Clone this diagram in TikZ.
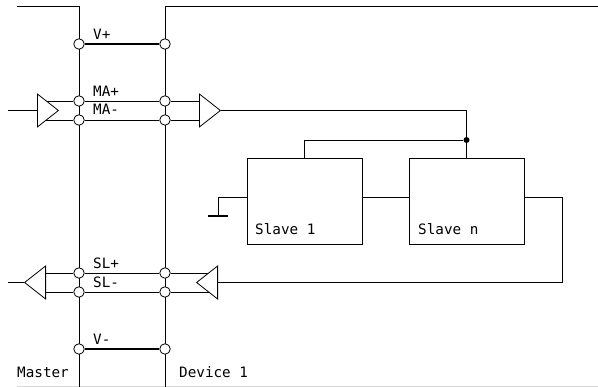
\documentclass[tikz,border=0pt]{standalone}
\usepackage{fontspec}
\setmonofont{DejaVu Sans Mono}
\usetikzlibrary{shapes.geometric}
\tikzset{
    wire/.style={line width=0.8pt},
    supply/.style={line width=1.6pt},
    edge line/.style={line width=0.8pt, black!15},
    port/.style={circle, draw, line width=0.8pt, fill=white, minimum size=10.5pt, inner sep=0pt},
    joint/.style={circle, fill=black, minimum size=6pt, inner sep=0pt},
    unit/.style={rectangle, draw, line width=0.8pt, minimum width=115pt, minimum height=86pt},
    buffer/.style={isosceles triangle, isosceles triangle stretches, draw, line width=0.8pt, fill=white,
        minimum width=33pt, minimum height=21pt, inner sep=0pt, anchor=lower side},
    tag/.style={anchor=base west, inner sep=0pt, font=\ttfamily\fontsize{14.3}{15}\selectfont}
}
\begin{document}
\begin{tikzpicture}[x=1pt, y=-1pt]
        \useasboundingbox (0,0) rectangle (598,387);

        % Faint line along the bottom edge
        \coordinate (edgea) at (17,386);
        \coordinate (edgeb) at (598,386);
        \draw[edge line] (edgea) -- (edgeb);

        % Rails
        \coordinate (mastertop) at (17,6);
        \coordinate (masterbend) at (79,6);
        \coordinate (masterend) at (79,387);
        \coordinate (devicebend) at (165,6);
        \coordinate (devicetop) at (598,6);
        \coordinate (deviceend) at (165,387);
        \draw[wire] (mastertop) -- (masterbend) -- (masterend);
        \draw[wire] (devicetop) -- (devicebend) -- (deviceend);

        % Ports on the master rail
        \node[port] (vpa) at (79,44) {};
        \node[port] (map) at (79,101) {};
        \node[port] (mam) at (79,120) {};
        \node[port] (slp) at (79,273) {};
        \node[port] (slm) at (79,292) {};
        \node[port] (vma) at (79,349) {};

        % Ports on the device rail
        \node[port] (vpb) at (165,44) {};
        \node[port] (mapb) at (165,101) {};
        \node[port] (mamb) at (165,120) {};
        \node[port] (slpb) at (165,273) {};
        \node[port] (slmb) at (165,292) {};
        \node[port] (vmb) at (165,349) {};

        % Pairs between the rails
        \draw[supply] (vpa) -- (vpb);
        \draw[supply] (vma) -- (vmb);
        \draw[wire] (45,101) -- (map) -- (mapb) -- (199,101);
        \draw[wire] (45,120) -- (mam) -- (mamb) -- (199,120);
        \draw[wire] (46,273) -- (slp) -- (slpb) -- (210,273);
        \draw[wire] (46,292) -- (slm) -- (slmb) -- (210,292);

        % Buffers
        \node[buffer] (bufma) at (37,110.5) {};
        \node[buffer] (bufmb) at (199,110.5) {};
        \node[buffer, shape border rotate=180] (bufsa) at (46,282.5) {};
        \node[buffer, shape border rotate=180] (bufsb) at (218,282.5) {};

        % Slaves
        \node[unit] (slavea) at (304.5,201.5) {};
        \node[unit] (slaven) at (466.5,201.5) {};
        \node[joint] (bus) at (466.5,140) {};

        % Outer wiring
        \coordinate (inma) at (8,110.5);
        \coordinate (outsl) at (8,282.5);
        \coordinate (inslb) at (562,282.5);
        \coordinate (gndpin) at (218,197);
        \coordinate (gnd) at (218,216);
        \coordinate (gndl) at (208,216);
        \coordinate (gndr) at (228,216);
        \coordinate (loop) at (562,197);
        \draw[wire] (inma) -- (bufma.lower side);
        \draw[wire] (bufsa.apex) -- (outsl);
        \draw[wire] (bufmb.apex) -| (bus);
        \draw[wire] (bus) -- (slaven.north);
        \draw[wire] (bus) -| (slavea.north);
        \draw[wire] (slavea.west |- gndpin) -- (gndpin) -- (gnd);
        \draw[supply] (gndl) -- (gndr);
        \draw[wire] (slavea.east |- gndpin) -- (slaven.west |- gndpin);
        \draw[wire] (slaven.east |- gndpin) -- (loop) -- (inslb) -- (bufsb.lower side);

        % Labels
        \node[tag] (lvp) at (93,40) {V+};
        \node[tag] (lmap) at (93,97) {MA+};
        \node[tag] (lmam) at (93,115) {MA-};
        \node[tag] (lslp) at (93,269) {SL+};
        \node[tag] (lslm) at (93,288) {SL-};
        \node[tag] (lvm) at (93,345) {V-};
        \node[tag] (lsa) at (255,235) {Slave 1};
        \node[tag] (lsn) at (418,235) {Slave n};
        \node[tag] (lmaster) at (17,378) {Master};
        \node[tag] (ldevice) at (179,378) {Device 1};
    \end{tikzpicture}
\end{document}
